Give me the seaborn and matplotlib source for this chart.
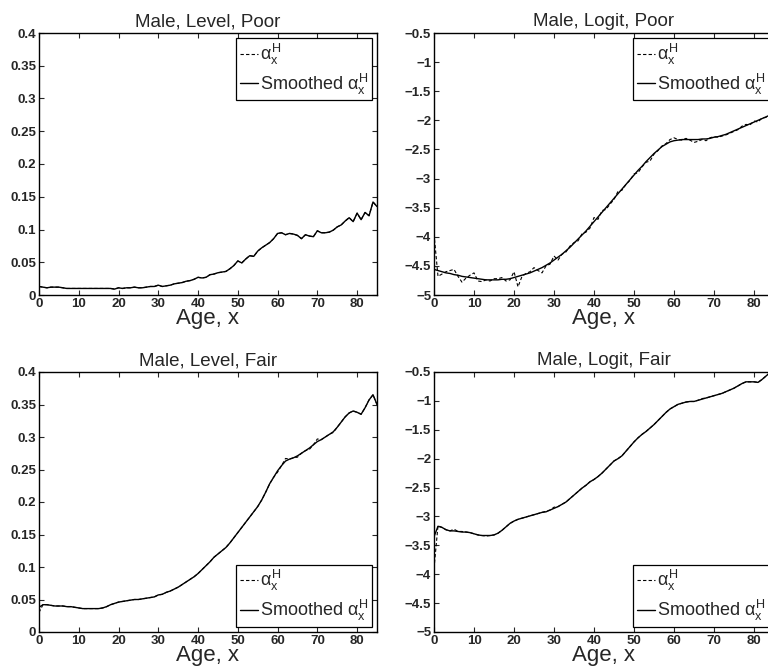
import numpy as np
import pandas as pd
import matplotlib
matplotlib.use("Agg")
import matplotlib.pyplot as plt
import seaborn as sb
from matplotlib.ticker import FuncFormatter, MultipleLocator

ages = list(range(0, 86))

# Male, Level, Poor
level_poor_raw = [0.013, 0.012, 0.011, 0.012, 0.012, 0.012, 0.011, 0.010, 0.010, 0.010,
                  0.010, 0.010, 0.010, 0.010, 0.010, 0.010, 0.010, 0.010, 0.010, 0.009,
                  0.011, 0.010, 0.011, 0.011, 0.012, 0.011, 0.011, 0.012, 0.013, 0.013,
                  0.015, 0.013, 0.014, 0.015, 0.017, 0.018, 0.019, 0.021, 0.022, 0.024,
                  0.027, 0.026, 0.027, 0.031, 0.032, 0.034, 0.035, 0.036, 0.040, 0.045,
                  0.052, 0.049, 0.055, 0.060, 0.059, 0.067, 0.072, 0.076, 0.080, 0.086,
                  0.094, 0.095, 0.092, 0.094, 0.093, 0.091, 0.086, 0.092, 0.090, 0.089,
                  0.098, 0.095, 0.095, 0.096, 0.099, 0.104, 0.107, 0.113, 0.118, 0.112,
                  0.125, 0.115, 0.126, 0.121, 0.142, 0.135]
level_poor_smooth = [0.013, 0.012, 0.011, 0.012, 0.012, 0.012, 0.011, 0.010, 0.010, 0.010,
                     0.010, 0.010, 0.010, 0.010, 0.010, 0.010, 0.010, 0.010, 0.010, 0.009,
                     0.011, 0.010, 0.011, 0.011, 0.012, 0.011, 0.011, 0.012, 0.013, 0.013,
                     0.015, 0.013, 0.014, 0.015, 0.017, 0.018, 0.019, 0.021, 0.022, 0.024,
                     0.027, 0.026, 0.027, 0.031, 0.032, 0.034, 0.035, 0.036, 0.040, 0.045,
                     0.052, 0.049, 0.055, 0.060, 0.059, 0.067, 0.072, 0.076, 0.080, 0.086,
                     0.094, 0.095, 0.092, 0.094, 0.093, 0.091, 0.086, 0.092, 0.090, 0.089,
                     0.098, 0.095, 0.095, 0.096, 0.099, 0.104, 0.107, 0.113, 0.118, 0.112,
                     0.125, 0.115, 0.126, 0.121, 0.142, 0.135]

# Male, Logit, Poor
logit_poor_raw = [-3.95, -4.68, -4.64, -4.60, -4.58, -4.56, -4.68, -4.78, -4.71, -4.66,
                  -4.62, -4.76, -4.77, -4.74, -4.76, -4.72, -4.72, -4.70, -4.76, -4.74,
                  -4.60, -4.86, -4.68, -4.63, -4.60, -4.53, -4.58, -4.62, -4.50, -4.47,
                  -4.33, -4.40, -4.30, -4.26, -4.16, -4.10, -4.07, -3.95, -3.92, -3.85,
                  -3.67, -3.70, -3.55, -3.53, -3.44, -3.36, -3.22, -3.20, -3.10, -3.03,
                  -2.92, -2.90, -2.80, -2.72, -2.70, -2.58, -2.52, -2.44, -2.40, -2.33,
                  -2.30, -2.33, -2.34, -2.31, -2.34, -2.38, -2.36, -2.33, -2.35, -2.30,
                  -2.28, -2.29, -2.27, -2.25, -2.22, -2.19, -2.16, -2.10, -2.07, -2.08,
                  -2.01, -2.03, -1.96, -1.95, -1.92, -1.87]
logit_poor_smooth = [-4.56, -4.58, -4.60, -4.62, -4.63, -4.65, -4.66, -4.68, -4.69, -4.70,
                     -4.71, -4.72, -4.73, -4.74, -4.74, -4.74, -4.74, -4.73, -4.73, -4.72,
                     -4.70, -4.68, -4.66, -4.64, -4.62, -4.59, -4.56, -4.53, -4.49, -4.45,
                     -4.40, -4.35, -4.30, -4.24, -4.18, -4.11, -4.04, -3.97, -3.90, -3.82,
                     -3.74, -3.66, -3.58, -3.50, -3.42, -3.34, -3.26, -3.18, -3.10, -3.02,
                     -2.94, -2.86, -2.79, -2.71, -2.64, -2.57, -2.51, -2.45, -2.41, -2.37,
                     -2.35, -2.34, -2.33, -2.33, -2.33, -2.33, -2.33, -2.32, -2.32, -2.31,
                     -2.29, -2.28, -2.26, -2.24, -2.21, -2.18, -2.15, -2.12, -2.09, -2.06,
                     -2.03, -2.00, -1.97, -1.94, -1.91, -1.88]

# Male, Level, Fair
level_fair_raw = [0.030, 0.042, 0.042, 0.041, 0.040, 0.040, 0.040, 0.039, 0.039, 0.038,
                  0.037, 0.036, 0.036, 0.036, 0.036, 0.036, 0.037, 0.039, 0.042, 0.044,
                  0.046, 0.047, 0.048, 0.049, 0.050, 0.050, 0.051, 0.052, 0.053, 0.054,
                  0.057, 0.058, 0.061, 0.063, 0.066, 0.069, 0.073, 0.077, 0.081, 0.085,
                  0.090, 0.096, 0.102, 0.108, 0.115, 0.120, 0.125, 0.130, 0.137, 0.145,
                  0.153, 0.161, 0.169, 0.177, 0.185, 0.193, 0.203, 0.215, 0.228, 0.238,
                  0.246, 0.256, 0.267, 0.266, 0.268, 0.269, 0.275, 0.279, 0.281, 0.288,
                  0.297, 0.296, 0.300, 0.304, 0.307, 0.315, 0.323, 0.331, 0.337, 0.340,
                  0.338, 0.335, 0.345, 0.357, 0.365, 0.350]
level_fair_smooth = [0.038, 0.042, 0.042, 0.041, 0.040, 0.040, 0.040, 0.039, 0.039, 0.038,
                     0.037, 0.036, 0.036, 0.036, 0.036, 0.036, 0.037, 0.039, 0.042, 0.044,
                     0.046, 0.047, 0.048, 0.049, 0.050, 0.050, 0.051, 0.052, 0.053, 0.054,
                     0.057, 0.058, 0.061, 0.063, 0.066, 0.069, 0.073, 0.077, 0.081, 0.085,
                     0.090, 0.096, 0.102, 0.108, 0.115, 0.120, 0.125, 0.130, 0.137, 0.145,
                     0.153, 0.161, 0.169, 0.177, 0.185, 0.193, 0.203, 0.215, 0.228, 0.238,
                     0.248, 0.256, 0.263, 0.266, 0.268, 0.271, 0.275, 0.279, 0.283, 0.288,
                     0.293, 0.296, 0.300, 0.304, 0.308, 0.315, 0.323, 0.331, 0.337, 0.340,
                     0.338, 0.335, 0.345, 0.357, 0.365, 0.350]

# Male, Logit, Fair
logit_fair_raw = [-3.90, -3.16, -3.19, -3.23, -3.25, -3.22, -3.26, -3.26, -3.27, -3.28,
                  -3.30, -3.32, -3.33, -3.34, -3.33, -3.32, -3.29, -3.24, -3.18, -3.12,
                  -3.08, -3.05, -3.03, -3.01, -2.99, -2.97, -2.95, -2.93, -2.91, -2.89,
                  -2.84, -2.83, -2.79, -2.75, -2.69, -2.63, -2.57, -2.51, -2.46, -2.40,
                  -2.36, -2.31, -2.25, -2.18, -2.11, -2.04, -2.00, -1.95, -1.87, -1.79,
                  -1.71, -1.64, -1.58, -1.53, -1.47, -1.41, -1.34, -1.27, -1.20, -1.14,
                  -1.10, -1.06, -1.04, -1.02, -1.01, -1.01, -0.99, -0.96, -0.95, -0.93,
                  -0.91, -0.89, -0.87, -0.84, -0.81, -0.78, -0.74, -0.70, -0.67, -0.67,
                  -0.67, -0.68, -0.63, -0.57, -0.51, -0.46]
logit_fair_smooth = [-3.35, -3.17, -3.19, -3.23, -3.25, -3.25, -3.26, -3.27, -3.27, -3.28,
                     -3.30, -3.32, -3.33, -3.33, -3.33, -3.32, -3.29, -3.24, -3.18, -3.12,
                     -3.08, -3.05, -3.03, -3.01, -2.99, -2.97, -2.95, -2.93, -2.92, -2.89,
                     -2.86, -2.83, -2.79, -2.75, -2.69, -2.63, -2.57, -2.51, -2.46, -2.40,
                     -2.36, -2.31, -2.25, -2.18, -2.11, -2.04, -2.00, -1.95, -1.87, -1.79,
                     -1.71, -1.64, -1.58, -1.53, -1.47, -1.41, -1.34, -1.27, -1.20, -1.14,
                     -1.10, -1.06, -1.04, -1.02, -1.01, -1.01, -0.99, -0.97, -0.95, -0.93,
                     -0.91, -0.89, -0.87, -0.84, -0.81, -0.78, -0.74, -0.70, -0.67, -0.67,
                     -0.67, -0.68, -0.63, -0.57, -0.51, -0.46]

titles = ["Male, Level, Poor", "Male, Logit, Poor", "Male, Level, Fair", "Male, Logit, Fair"]

sb.set_style("ticks")
plt.rcParams["font.family"] = ["Liberation Sans", "DejaVu Sans"]
plt.rcParams["mathtext.fontset"] = "custom"
plt.rcParams["mathtext.rm"] = "Liberation Sans"
plt.rcParams["mathtext.it"] = "Liberation Sans"
plt.rcParams["mathtext.bf"] = "Liberation Sans:bold"
plt.rcParams["xtick.direction"] = "in"
plt.rcParams["ytick.direction"] = "in"

fig = plt.figure(figsize=(7.68, 6.69), dpi=100)
W, H = 768, 669

# axes boxes in pixels: left, top, right, bottom (right column runs past the edge)
boxes = [(39, 33, 377, 295), (434, 33, 774, 295),
         (39, 372, 377, 632), (434, 372, 774, 632)]
panels = [(level_poor_raw, level_poor_smooth, "level", "upper right"),
          (logit_poor_raw, logit_poor_smooth, "logit", "upper right"),
          (level_fair_raw, level_fair_smooth, "level", "lower right"),
          (logit_fair_raw, logit_fair_smooth, "logit", "lower right")]

lab_raw = r"$\alpha_x^H$"
lab_smooth = r"Smoothed $\alpha_x^H$"

def fmt(v, pos):
    s = f"{round(v, 4):g}"
    if s == "-0":
        s = "0"
    return s.replace("-", "\u2212")

for i in range(4):
    l, t, r, b = boxes[i]
    ax = fig.add_axes([l / W, 1 - b / H, (r - l) / W, (b - t) / H])
    raw, smooth, kind, loc = panels[i]
    df = pd.DataFrame({"age": ages, "raw": raw, "smooth": smooth})
    sb.lineplot(data=df, x="age", y="raw", ax=ax, color="k", lw=0.8,
                linestyle=(0, (3, 2)), label=lab_raw)
    sb.lineplot(data=df, x="age", y="smooth", ax=ax, color="k", lw=1.0,
                label=lab_smooth)
    ax.set_xlim(0, 85)
    if kind == "level":
        ax.set_ylim(0, 0.4)
        ax.yaxis.set_major_locator(MultipleLocator(0.05))
    else:
        ax.set_ylim(-5, -0.5)
        ax.yaxis.set_major_locator(MultipleLocator(0.5))
    ax.xaxis.set_major_locator(MultipleLocator(10))
    ax.yaxis.set_major_formatter(FuncFormatter(fmt))
    ax.tick_params(top=True, right=True, length=3.5, width=0.8, pad=2,
                   labelsize=9.5)
    for lbl in ax.get_xticklabels() + ax.get_yticklabels():
        lbl.set_fontweight("bold")
    for sp in ax.spines.values():
        sp.set_color("k")
        sp.set_linewidth(1.0)
    ax.set_title(titles[i], fontsize=13.5, pad=5)
    ax.set_xlabel("Age, x", fontsize=16, labelpad=-1)
    ax.set_ylabel("")
    leg = ax.legend(loc=loc, fontsize=13, frameon=True, fancybox=False,
                    edgecolor="k", framealpha=1, handlelength=1.0,
                    handletextpad=0.1, borderaxespad=0.3, borderpad=0.2,
                    labelspacing=0.25)
    leg.get_frame().set_linewidth(0.9)

fig.savefig("out.png", dpi=100)
